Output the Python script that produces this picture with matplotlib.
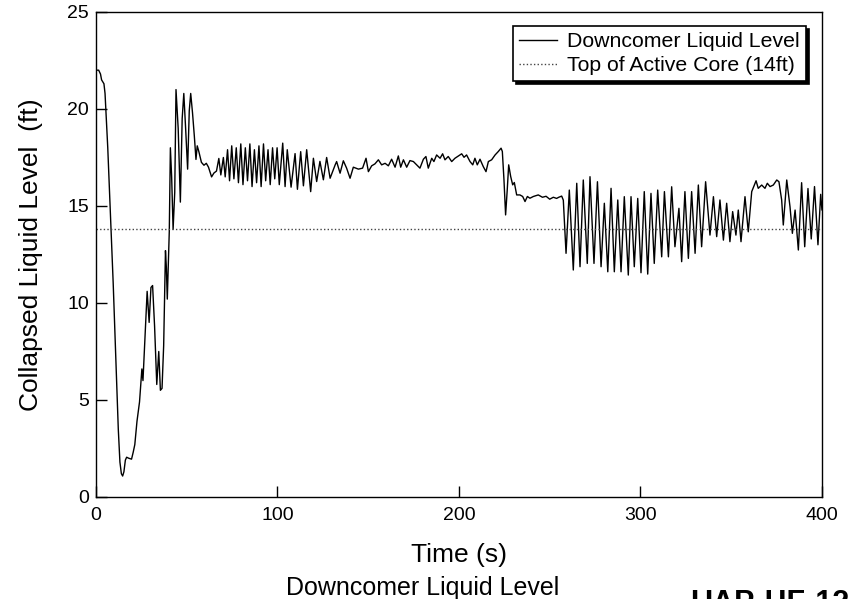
import matplotlib

matplotlib.use("Agg")
import matplotlib.pyplot as plt

plt.rcParams["font.family"] = ["Liberation Sans", "DejaVu Sans"]

# downcomer collapsed liquid level (s, ft)
time_s = [
    0.0, 1.5, 2.5, 3.1, 4.4, 5.0, 6.5, 8.0, 9.5, 11.0, 12.3, 13.2, 14.0, 14.7, 15.4,
    16.2, 16.9, 18.0, 19.6, 20.5, 21.4, 22.6, 24.0, 25.3, 25.9, 26.8, 28.2, 29.3, 30.3,
    31.2, 32.3, 33.5, 34.6, 35.5, 36.4, 37.3, 38.3, 38.8, 39.3, 39.8, 40.4, 41.0, 41.7,
    42.5, 43.4, 44.1, 45.3, 46.5, 47.5, 48.4, 49.4, 50.5, 51.4, 52.2, 53.2, 54.2, 55.1,
    55.8, 56.7, 58.1, 59.5, 60.8, 62.0, 63.7, 65.0, 66.4, 67.7, 68.8, 70.2, 71.2, 72.5,
    73.6, 74.8, 76.0, 77.3, 78.5, 79.8, 81.0, 82.3, 83.5, 84.8, 86.0, 87.3, 88.5, 89.8,
    91.0, 92.3, 93.5, 94.8, 96.0, 97.3, 98.5, 99.8, 101.0, 102.9, 104.2, 105.4, 107.5,
    109.7, 111.0, 112.8, 114.3, 116.1, 118.3, 119.8, 121.6, 123.4, 125.3, 127.1, 129.0,
    131.8, 132.6, 134.5, 136.3, 138.1, 140.0, 141.8, 144.6, 146.9, 148.8, 150.1, 151.9,
    153.7, 155.6, 157.4, 159.3, 161.1, 162.9, 164.8, 166.6, 167.9, 169.4, 171.2, 173.0,
    174.9, 176.7, 178.5, 180.4, 181.8, 183.1, 185.0, 186.2, 187.7, 189.6, 191.0, 192.3,
    194.1, 196.0, 197.8, 199.7, 201.5, 202.8, 204.2, 206.1, 207.6, 208.8, 210.1, 211.6,
    213.4, 214.9, 216.2, 218.0, 219.9, 221.7, 223.2, 223.9, 224.8, 225.7, 226.6, 227.4,
    228.5, 229.6, 230.5, 231.8, 233.6, 235.1, 236.4, 237.7, 239.1, 241.0, 243.7, 246.0,
    248.0, 250.0, 252.0, 253.8, 255.0, 256.6, 257.5, 259.0, 260.8, 263.0, 264.9, 266.7,
    268.5, 270.7, 272.2, 274.4, 276.3, 278.3, 280.1, 282.0, 283.8, 285.6, 287.5, 289.3,
    291.1, 293.3, 294.8, 296.6, 298.5, 300.3, 302.1, 304.0, 305.8, 307.6, 309.5, 311.7,
    313.2, 315.4, 317.2, 319.0, 321.2, 322.7, 324.5, 326.4, 328.2, 330.1, 331.9, 333.7,
    335.9, 338.3, 340.2, 342.0, 343.8, 345.7, 347.5, 349.3, 350.8, 352.6, 353.9, 355.4,
    357.6, 359.4, 361.3, 363.7, 364.9, 366.8, 368.6, 369.9, 371.4, 373.2, 375.1, 376.3,
    377.8, 378.7, 380.6, 382.4, 383.7, 385.2, 387.0, 388.8, 390.5, 392.3, 394.1, 395.9,
    397.8, 399.3, 400.0,
]
level_ft = [
    22.0, 22.0, 21.8, 21.5, 21.3, 20.8, 18.0, 14.5, 11.0, 7.0, 3.5, 1.8, 1.2, 1.08, 1.3,
    1.9, 2.05, 2.0, 1.95, 2.3, 2.7, 3.9, 4.9, 6.6, 6.0, 7.8, 10.6, 9.0, 10.8,
    10.9, 8.8, 5.8, 7.5, 5.5, 5.6, 7.8, 12.7, 11.8, 10.2, 11.8, 13.7, 18.0, 16.5,
    13.8, 15.7, 21.0, 19.0, 15.2, 19.5, 20.8, 19.0, 16.9, 19.9, 20.8, 19.8, 18.6, 17.4,
    18.1, 17.8, 17.25, 17.1, 17.2, 17.0, 16.5, 16.7, 16.8, 17.45, 16.6, 17.5, 16.5, 17.9,
    16.3, 18.1, 16.4, 18.0, 16.2, 18.2, 16.1, 18.0, 16.3, 18.2, 16.0, 17.9, 16.2, 18.1,
    16.0, 18.2, 16.3, 17.9, 16.1, 18.0, 16.4, 18.0, 16.1, 18.24, 16.0, 17.9, 15.97,
    17.7, 15.86, 17.8, 16.04, 17.9, 15.74, 17.46, 16.26, 17.3, 16.35, 17.5, 16.43,
    17.12, 17.29, 16.69, 17.33, 16.95, 16.43, 17.0, 16.9, 16.95, 17.46, 16.77, 17.07,
    17.17, 17.38, 17.12, 17.2, 17.07, 17.41, 17.0, 17.58, 17.0, 17.38, 17.0, 17.34,
    17.29, 17.12, 16.95, 17.41, 17.55, 16.95, 17.46, 17.29, 17.63, 17.46, 17.69, 17.38,
    17.55, 17.29, 17.46, 17.58, 17.69, 17.51, 17.63, 17.29, 17.12, 17.46, 17.12, 17.41,
    17.03, 16.77, 17.29, 17.38, 17.63, 17.81, 17.98, 17.81, 16.35, 14.54, 15.83, 17.12,
    16.52, 16.09, 16.21, 15.57, 15.57, 15.49, 15.23, 15.49, 15.4, 15.49, 15.57, 15.45,
    15.5, 15.35, 15.45, 15.39, 15.45, 15.51, 15.3, 12.56, 15.82, 11.7, 16.17, 11.87,
    16.34, 12.04, 16.51, 12.04, 16.25, 11.87, 15.14, 11.61, 15.91, 11.61, 15.31, 11.61,
    15.48, 11.44, 15.48, 11.87, 15.39, 11.56, 15.74, 11.49, 15.65, 12.04, 15.82, 12.38,
    15.74, 12.38, 15.99, 12.9, 14.88, 12.13, 15.74, 12.3, 15.74, 12.56, 16.08, 12.9,
    16.25, 13.5, 15.48, 13.42, 15.31, 13.24, 15.14, 13.16, 14.71, 13.5, 14.79, 13.16,
    15.48, 13.67, 15.74, 16.3, 15.91, 16.08, 15.91, 16.17, 16.0, 16.08, 16.34, 16.25,
    15.31, 14.02, 16.34, 14.96, 13.59, 14.79, 12.73, 16.2, 12.9, 15.9, 13.3, 16.0,
    13.0, 15.6, 14.8,
]
core_top_ft = 13.8

x_ticks = [0, 100, 200, 300, 400]
y_ticks = [0, 5, 10, 15, 20, 25]

fig = plt.figure(figsize=(8.53, 5.99), dpi=100)
ax = fig.add_axes([0.1125, 0.1703, 0.8511, 0.8097])

ax.plot(time_s, level_ft, color="black", lw=1.0, label="Downcomer Liquid Level")
ax.axhline(core_top_ft, color="#444444", lw=1.0, ls=(0, (1, 1.6)),
           label="Top of Active Core (14ft)")

ax.set_xlim(0, 400)
ax.set_ylim(0, 25)
ax.set_xticks(x_ticks)
ax.set_yticks(y_ticks)
ax.tick_params(direction="in", length=8, width=1, labelsize=14, top=False, right=False)
ax.tick_params(axis="x", pad=7)
ax.tick_params(axis="y", pad=5)
for spine in ax.spines.values():
    spine.set_linewidth(1.0)

ax.set_xlabel("Time (s)", fontsize=19)
ax.xaxis.set_label_coords(0.5, -0.134)
ax.xaxis.label.set_va("baseline")
ax.set_ylabel("Collapsed Liquid Level  (ft)", fontsize=19)
ax.yaxis.set_label_coords(-0.0895, 0.5)
ax.yaxis.label.set_va("center")

leg = ax.legend(loc="upper right", bbox_to_anchor=(0.978, 0.971), borderaxespad=0,
                fontsize=15.3, handlelength=1.8, handletextpad=0.45, borderpad=0.3,
                labelspacing=0.22, fancybox=False, framealpha=1,
                shadow={"color": "black", "alpha": 1, "ox": 2, "oy": -2})
leg.get_frame().set_edgecolor("black")
leg.get_frame().set_linewidth(1.2)

fig.text(0.4953, 0.007, "Downcomer Liquid Level", fontsize=18, ha="center", va="baseline")
fig.text(0.809, -0.0217, "UAP-HF-12", fontsize=22, fontweight="bold", ha="left", va="baseline")

fig.savefig("out.png", dpi=100)
